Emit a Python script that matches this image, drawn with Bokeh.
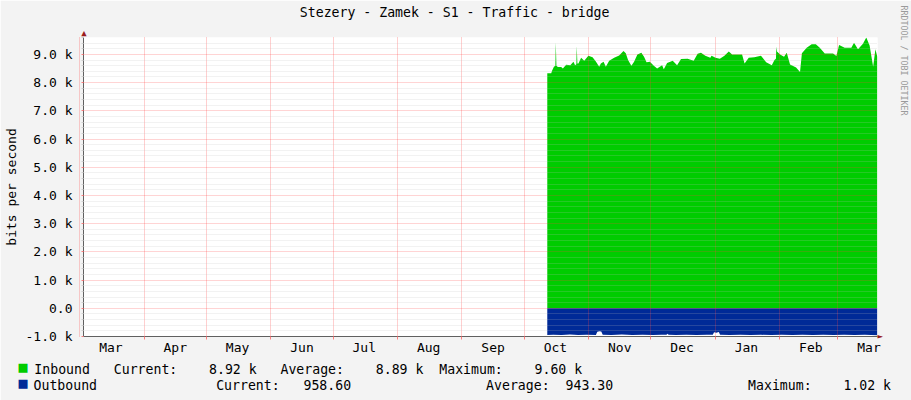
import numpy as np
import pandas as pd
from bokeh.plotting import figure
from bokeh.models import Range1d, FixedTicker, CustomJSTickFormatter, LinearAxis
from bokeh.embed import file_html
from bokeh.resources import INLINE

# ---------------- data ----------------
title_text = "Stezery - Zamek - S1 - Traffic - bridge"
y_title = "bits per second"
watermark = "RRDTOOL / TOBI OETIKER"

month_labels = ["Mar", "Apr", "May", "Jun", "Jul", "Aug", "Sep",
                "Oct", "Nov", "Dec", "Jan", "Feb", "Mar"]
month_starts = ["2014-03-01", "2014-04-01", "2014-05-01", "2014-06-01",
                "2014-07-01", "2014-08-01", "2014-09-01", "2014-10-01",
                "2014-11-01", "2014-12-01", "2015-01-01", "2015-02-01",
                "2015-03-01"]

x_first = "2014-03-02 19:12"
x_last = "2015-03-20 02:24"
series_origin = "2014-10-01"

# inbound traffic (k bits/s), day offsets from series_origin
in_day = [11.1, 13.0, 13.4, 14.3, 15.0, 15.2, 15.5, 16.2, 17.8, 18.6,
          20.2, 22.2, 23.7, 24.5, 25.1, 25.3, 25.6, 26.1, 27.4, 28.9,
          30.9, 32.9, 34.5, 36.1, 36.9, 38.2, 39.3, 40.9, 43.3, 45.7,
          47.8, 48.9, 50.0, 51.6, 52.9, 54.5, 56.4, 57.7, 58.9, 60.5,
          62.4, 64.0, 65.3, 66.4, 67.2, 68.8, 71.5, 73.6, 75.5, 78.7,
          81.6, 83.5, 85.1, 87.2, 89.6, 90.2, 92.1, 94.2, 96.4, 98.5,
          100.1, 102.5, 104.9, 106.1, 108.1, 110.8, 114.0, 116.5, 119.2, 120.5,
          121.2, 121.4, 121.7, 123.2, 125.1, 126.4, 128.0, 130.9, 132.8, 133.7,
          136.0, 138.4, 140.4, 142.3, 144.7, 148.7, 150.3, 151.6, 154.3, 157.5,
          158.8, 160.7, 163.1, 164.7, 166.3, 168.0, 169.1, 170.0]
in_kbps = [8.33, 8.33, 8.42, 8.56, 8.60, 9.43, 8.60, 8.55, 8.55, 8.50,
           8.63, 8.62, 8.74, 8.62, 8.65, 9.30, 8.68, 8.68, 8.88, 8.78,
           8.95, 8.90, 8.75, 8.56, 8.68, 8.74, 8.56, 8.78, 8.88, 8.96,
           9.12, 9.04, 8.80, 8.60, 8.74, 9.00, 9.06, 8.92, 8.72, 8.74,
           8.60, 8.50, 8.56, 8.62, 8.47, 8.70, 8.78, 8.62, 8.84, 8.85,
           8.78, 9.02, 9.06, 8.95, 8.88, 8.95, 8.88, 8.85, 8.95, 9.10,
           9.00, 9.00, 9.00, 8.68, 8.88, 8.90, 8.95, 8.72, 8.62, 8.80,
           8.85, 9.27, 9.10, 9.00, 8.92, 9.06, 8.64, 8.54, 8.38, 9.04,
           9.24, 9.36, 9.36, 9.24, 9.03, 9.03, 8.94, 9.33, 9.24, 9.24,
           9.41, 9.18, 9.38, 9.60, 9.32, 8.56, 9.18, 8.92]

# outbound traffic (k bits/s), drawn below zero
out_day = [11.1, 14.0, 18.0, 22.0, 26.0, 30.0, 34.5, 35.2, 36.2, 37.1,
           37.8, 42.0, 47.0, 52.0, 57.0, 62.0, 66.0, 68.5, 69.0, 69.5,
           73.0, 78.0, 83.0, 88.0, 90.8, 91.4, 92.5, 93.7, 94.3, 99.0,
           104.0, 109.0, 114.0, 119.0, 124.0, 129.0, 134.0, 139.0, 144.0, 149.0,
           154.0, 159.0, 164.0, 170.0]
out_kbps = [0.95, 0.94, 0.95, 0.93, 0.95, 0.94, 0.95, 0.83, 0.81, 0.82,
            0.94, 0.95, 0.93, 0.95, 0.94, 0.95, 0.94, 0.94, 0.90, 0.94,
            0.95, 0.94, 0.95, 0.94, 0.94, 0.85, 0.87, 0.84, 0.94, 0.95,
            0.94, 0.95, 0.94, 0.95, 0.94, 0.95, 0.94, 0.95, 0.94, 0.95,
            0.94, 0.95, 0.94, 0.959]

y_major = [-1, 0, 1, 2, 3, 4, 5, 6, 7, 8, 9]
y_minor_step = 0.2
y_low, y_high = -1.0, 9.6

legend_names = ["Inbound", "Outbound"]
stat_names = ["Current:", "Average:", "Maximum:"]
inbound_stats = ["8.92 k", "8.89 k", "9.60 k"]
outbound_stats = ["958.60", "943.30", "1.02 k"]

# ---------------- styling / layout ----------------
FONT = "DejaVu Sans Mono"
IN_C = "#00cc00"
OUT_C = "#002a97"
AXIS_C = "#606060"
ARROW_C = "#9b1c1c"
BG = "#f3f3f3"

W, H = 911, 400
FL, FT, FW, FH = 81, 37, 799, 299
LEG_PX = 13.2                 # legend font size (px)
CHAR_W = 0.6021 * LEG_PX      # DejaVu Sans Mono advance
SQ_PX = 15.0                  # legend swatch font size (px)


def ms(ts):
    return pd.Timestamp(ts).value / 1e6


origin = pd.Timestamp(series_origin)
in_x = ((origin + pd.to_timedelta(in_day, unit="D")).asi8 / 1e6).tolist()
out_x = ((origin + pd.to_timedelta(out_day, unit="D")).asi8 / 1e6).tolist()
start_ms = [ms(d) for d in month_starts]
label_ms = [ms(pd.Timestamp(d) + pd.Timedelta(days=15)) for d in month_starts]
x0, x1 = ms(x_first), ms(x_last)


def px_to_x(px):
    return x0 + (px - FL) / FW * (x1 - x0)


def py_to_y(py):
    return y_high - (py - FT) / FH * (y_high - y_low)


y_minor = [round(float(v), 1) for v in np.arange(y_low, y_high + 1e-9, y_minor_step)
           if abs(v - round(v)) > 1e-6]

p = figure(width=W, height=H, x_axis_type="datetime", title=None,
           x_range=Range1d(x0, x1), y_range=Range1d(y_low, y_high),
           output_backend="svg", toolbar_location=None,
           min_border_left=FL, min_border_right=W - FL - FW,
           min_border_top=FT, min_border_bottom=H - FT - FH,
           background_fill_color="white", border_fill_color=BG,
           outline_line_color=None)

p.varea(x=in_x, y1=0, y2=in_kbps, fill_color=IN_C)
p.varea(x=out_x, y1=0, y2=[-v for v in out_kbps], fill_color=OUT_C)

# x axis: month names centred in each month, ticks on month starts
xa = p.xaxis[0]
xa.ticker = FixedTicker(ticks=label_ms, minor_ticks=start_ms)
xa.formatter = CustomJSTickFormatter(
    args=dict(label_pos=label_ms, names=month_labels),
    code="""
let best = 0;
for (let i = 1; i < label_pos.length; i++) {
  if (Math.abs(label_pos[i] - tick) < Math.abs(label_pos[best] - tick)) best = i;
}
return names[best];
""")
xa.major_tick_line_color = None
xa.major_tick_out = 0
xa.major_tick_in = 0
xa.minor_tick_out = 3
xa.minor_tick_in = 0
xa.minor_tick_line_color = "#ff8080"
xa.major_label_standoff = 0
xa.axis_line_color = AXIS_C
xa.major_label_text_font = FONT
xa.major_label_text_font_size = "13px"
xa.major_label_text_color = "black"

# y axis
ya = p.yaxis[0]
ya.ticker = FixedTicker(ticks=y_major, minor_ticks=y_minor)
ya.formatter = CustomJSTickFormatter(
    code="return Math.abs(tick) < 1e-9 ? '0.0' : tick.toFixed(1) + ' k';")
ya.major_tick_out = 2
ya.major_tick_in = 0
ya.major_tick_line_color = "#ff8080"
ya.minor_tick_out = 2
ya.minor_tick_in = 0
ya.minor_tick_line_color = "#d0d0d0"
ya.major_label_standoff = 9
ya.axis_line_color = AXIS_C
ya.major_label_text_font = FONT
ya.major_label_text_font_size = "13px"
ya.major_label_text_color = "black"
ya.axis_label = y_title
ya.axis_label_text_font = FONT
ya.axis_label_text_font_size = "13px"
ya.axis_label_text_font_style = "normal"
ya.axis_label_text_color = "black"
ya.axis_label_standoff = 4

# grids drawn over the areas, semi transparent like rrdtool
p.xgrid.ticker = FixedTicker(ticks=start_ms)
p.xgrid.grid_line_color = "#ff4040"
p.xgrid.grid_line_alpha = 0.5
p.xgrid.grid_line_dash = "1 1"
p.xgrid.level = "guide"
p.ygrid.ticker = FixedTicker(ticks=y_major, minor_ticks=y_minor)
p.ygrid.grid_line_color = "#ff4040"
p.ygrid.grid_line_alpha = 0.45
p.ygrid.grid_line_dash = "1 1"
p.ygrid.minor_grid_line_color = "#c0c0c0"
p.ygrid.minor_grid_line_alpha = 0.4
p.ygrid.minor_grid_line_dash = "1 1"
p.ygrid.level = "guide"


def text_axis(txt, pos, standoff, size, color, orientation="horizontal"):
    return LinearAxis(
        ticker=FixedTicker(ticks=[pos], minor_ticks=[]),
        formatter=CustomJSTickFormatter(args=dict(txt=txt), code="return txt;"),
        axis_line_color=None, major_tick_line_color=None,
        minor_tick_line_color=None, major_tick_out=0, major_tick_in=0,
        minor_tick_out=0, minor_tick_in=0, major_label_standoff=standoff,
        major_label_orientation=orientation, major_label_text_font=FONT,
        major_label_text_font_size=size, major_label_text_color=color)


# axis arrow heads (closest panels), then the title and the rrdtool credit
p.add_layout(text_axis("\u25b2", px_to_x(FL + 0.4), 0, "9px", ARROW_C), "above")
p.add_layout(text_axis("\u25ba", y_low + 0.004, 0, "9px", ARROW_C), "right")
p.add_layout(text_axis(title_text, px_to_x(454.5), 5, "13.2px", "black"), "above")
p.add_layout(text_axis(watermark, py_to_y(60), 13, "8.3px", "#9a9a9a", "vertical"),
             "right")

# ---------------- legend rows (below the month labels) ----------------
NB = "\u00a0"


def legend_row(items):
    s = ""
    for col, txt in items:
        s = s + NB * max(0, col - len(s)) + txt
    return s


row1 = legend_row([(0, legend_names[0]), (10, stat_names[0]), (22, inbound_stats[0]),
                   (31, stat_names[1]), (43, inbound_stats[1]),
                   (51, stat_names[2]), (63, inbound_stats[2])])
row2 = legend_row([(0, legend_names[1]), (23, stat_names[0]), (34, outbound_stats[0]),
                   (57, stat_names[1]), (67, outbound_stats[1]),
                   (90, stat_names[2]), (102, outbound_stats[2])])

TEXT_LEFT = 33.0
SQ_LEFT = 16.0
swatch = "\u25a0" + NB * 15
sq_center = SQ_LEFT + len(swatch) * 0.6021 * SQ_PX / 2


def row_center(s):
    return TEXT_LEFT + len(s) * CHAR_W / 2


# each swatch/text pair shares one band: the text axis overlaps its swatch
p.add_layout(text_axis(swatch, px_to_x(sq_center), 0, f"{SQ_PX}px", IN_C), "below")
p.add_layout(text_axis(row1, px_to_x(row_center(row1)), -17, f"{LEG_PX}px", "black"),
             "below")
p.add_layout(text_axis(swatch, px_to_x(sq_center), -6, f"{SQ_PX}px", OUT_C), "below")
p.add_layout(text_axis(row2, px_to_x(row_center(row2)), -17, f"{LEG_PX}px", "black"),
             "below")

open("out.html", "w").write(file_html(p, INLINE))
